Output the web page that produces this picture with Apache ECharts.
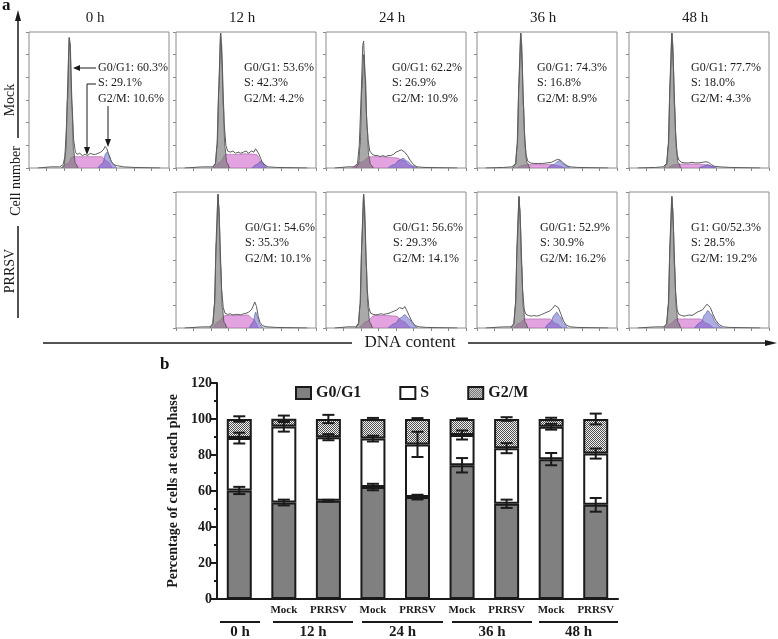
<!DOCTYPE html>
<html>
<head>
<meta charset="utf-8">
<script src="https://cdn.jsdelivr.net/npm/echarts@6/dist/echarts.min.js"></script>
<style>
  html, body { margin: 0; padding: 0; background: #fff; }
  #chart { width: 778px; height: 639px; }
</style>
</head>
<body>
<div id="chart"></div>
<script>
const SERIF = "'Liberation Serif', 'Times New Roman', serif";

// ---- panel b : stacked percentages (0 h, then Mock / PRRSV for 12, 24, 36, 48 h)
const barCats = ['', 'Mock', 'PRRSV', 'Mock', 'PRRSV', 'Mock', 'PRRSV', 'Mock', 'PRRSV'];
const g0Vals = [60.3, 53.6, 54.6, 62.2, 56.6, 74.3, 52.9, 77.7, 52.3];
const sVals = [29.1, 42.3, 35.3, 26.9, 29.3, 16.8, 30.9, 18.0, 28.5];
const g2Vals = [10.6, 4.2, 10.1, 10.9, 14.1, 8.9, 16.2, 4.3, 19.2];
const g0Err = [2.0, 1.6, 0.5, 1.8, 1.3, 4.0, 2.3, 3.4, 3.8];
const sErr = [3.0, 2.9, 1.7, 1.6, 7.0, 2.5, 2.8, 1.6, 2.8];
const g2Err = [1.5, 1.8, 2.3, 0.6, 0.5, 0.3, 1.0, 0.7, 3.0];
const timeLabels = ['0 h', '12 h', '24 h', '36 h', '48 h'];

// ---- panel a : DNA histograms, order Mock 0/12/24/36/48 h, PRRSV 12/24/36/48 h
const histBar = [0, 1, 3, 5, 7, 2, 4, 6, 8];   // which bar each histogram belongs to
const g0Prefix = ['G0/G1: ', 'G0/G1: ', 'G0/G1: ', 'G0/G1: ', 'G0/G1: ',
                  'G0/G1: ', 'G0/G1: ', 'G0/G1: ', 'G1: G0/'];
const g1Curves = [
  [[37,0],[40,2],[42,15],[44,60],[46,115],[47,110],[49,55],[51,15],[53,4],[56,0]],
  [[42,0],[45,3],[47,20],[49,70],[51,119],[52,110],[54,55],[56,18],[58,5],[61,0]],
  [[34,0],[37,3],[39,20],[41,70],[43,100],[45,80],[47,35],[49,10],[51,3],[54,0]],
  [[41,0],[44,3],[46,20],[48,75],[50,119],[51,110],[53,55],[55,18],[57,5],[60,0]],
  [[40,0],[43,3],[45,20],[47,75],[49,119],[50,110],[52,55],[54,18],[56,5],[59,0]],
  [[39,0],[42,3],[44,20],[46,75],[48,118],[49,108],[51,55],[53,18],[55,5],[58,0]],
  [[34,0],[37,3],[39,20],[41,75],[43,118],[44,108],[46,55],[48,18],[50,5],[53,0]],
  [[39,0],[42,3],[44,20],[46,75],[48,116],[49,106],[51,55],[53,18],[55,5],[58,0]],
  [[40,0],[43,3],[45,20],[47,75],[49,116],[50,106],[52,55],[54,18],[56,5],[59,0]]
];
const sCurves = [
  [[38,0],[44,4],[50,10],[60,10],[70,10],[83,10],[89,6],[95,0]],
  [[44,0],[50,5],[57,12],[70,12],[80,12.5],[92,12],[98,5],[102,0]],
  [[30,0],[40,5],[50,10],[65,10],[80,9],[88,7],[96,2],[102,0]],
  [[46,0],[53,2.5],[60,3],[75,3],[85,3],[92,2],[100,0]],
  [[45,0],[52,3],[60,3.5],[75,3.5],[85,3.2],[92,2],[98,0]],
  [[42,0],[49,6],[56,11],[70,11],[82,11.5],[88,8],[94,0]],
  [[38,0],[47,6],[55,11],[68,11],[80,10.5],[88,6],[96,0]],
  [[42,0],[48,4],[55,8],[70,8],[83,8],[90,4],[97,0]],
  [[42,0],[48,4],[54,8],[68,8],[81,8],[89,4],[96,0]]
];
const g2Curves = [
  [[79,0],[84,4],[88,13],[89,14],[91,12],[95,4],[100,0]],
  [[87,0],[92,3],[97,6],[100,4],[104,0]],
  [[71,0],[78,3],[84,7],[88,8.5],[93,6],[99,2],[105,0]],
  [[81,0],[87,3],[94,6.5],[99,3.5],[106,0]],
  [[80,0],[85,1.5],[90,3],[95,1.5],[100,0]],
  [[84,0],[88,5],[91,14],[93,10],[96,3],[99,0]],
  [[71,0],[79,4],[85,9],[90,11.7],[95,8],[100,3],[104,0]],
  [[78,0],[84,5],[88,11],[91,14],[95,10],[99,4],[103,0]],
  [[75,0],[82,5],[87,12],[90,15.5],[94,12],[99,5],[104,1],[107,0]]
];
const rawCurves = [
  [[10,0],[25,1],[35,1],[39,3],[41,10],[43,40],[45,95],[46,115],[47,108],[49,60],[51,25],[53,14],[55,12],[58,13],[61,11],[64,12],[67,11],[70,13],[73,12],[76,12],[79,13],[82,14],[85,16],[87,19],[89,17],[91,12],[94,6],[97,3],[101,2],[108,1],[120,0.5],[150,0]],
  [[10,0],[30,1],[42,1],[45,4],[47,22],[49,75],[51,119],[53,90],[55,40],[57,20],[59,15],[62,14],[65,15],[68,13],[71,14],[74,13],[77,14],[80,15],[83,13],[86,15],[89,14],[91,17],[93,16],[95,12],[98,6],[101,3],[105,1],[115,0.5],[150,0]],
  [[10,0],[25,1],[33,1],[36,4],[38,20],[40,60],[42,108],[43,112],[44,95],[46,50],[48,25],[50,15],[53,12],[56,11],[59,11],[62,10],[65,11],[68,10],[71,11],[74,11],[77,12],[80,14],[83,15],[86,16],[88,16.5],[90,14],[93,11],[96,7],[100,3],[104,1],[112,0.5],[150,0]],
  [[10,0],[30,0.5],[40,1],[44,4],[46,22],[48,80],[50,119],[52,85],[54,35],[56,12],[58,6],[61,4.5],[65,4],[70,4],[75,4],[80,4.5],[85,5],[89,6.5],[92,7.7],[95,7],[98,5],[102,2],[107,1],[115,0.5],[150,0]],
  [[10,0],[30,0.5],[39,1],[43,4],[45,22],[47,80],[49,119],[51,85],[53,35],[55,12],[57,7],[60,5],[64,4.5],[68,4.5],[72,5],[76,4.5],[80,4.5],[84,5],[88,5.5],[91,5],[94,3],[98,1.5],[104,1],[115,0.5],[150,0]],
  [[10,0],[30,1],[39,1],[42,4],[44,22],[46,80],[48,118],[50,85],[52,35],[54,18],[56,13],[59,12],[62,12.5],[65,11.5],[68,12],[71,12],[74,11.5],[77,12.5],[80,13],[83,14],[86,16],[88,19],[90,23],[92,19],[94,10],[96,5],[99,2],[104,1],[115,0.5],[150,0]],
  [[10,0],[25,1],[34,1],[37,4],[39,22],[41,80],[43,118],[45,85],[47,35],[49,18],[51,13],[54,12],[57,11.5],[60,12],[63,12.5],[66,12],[69,12.5],[72,13],[75,14],[78,15],[81,16],[84,18],[86,19.5],[88,17],[90,19],[92,16],[95,11],[98,6],[102,2],[107,1],[115,0.5],[150,0]],
  [[10,0],[30,1],[39,1],[42,4],[44,22],[46,80],[48,116],[50,85],[52,35],[54,16],[56,12],[59,11],[62,10.5],[65,11],[68,10.5],[71,11],[74,12],[77,13],[80,14],[83,15],[86,17],[89,20],[91,21],[93,18],[96,12],[99,6],[102,2.5],[107,1],[115,0.5],[150,0]],
  [[10,0],[30,1],[40,1],[43,4],[45,22],[47,80],[49,116],[51,85],[53,35],[55,16],[57,12],[60,11],[63,10.5],[66,11],[69,11.5],[72,11],[75,12.5],[78,14],[81,15],[84,16],[87,19],[89,21],[91,20],[93,18],[96,12],[99,7],[103,3],[108,1],[115,0.5],[150,0]]
];

// layout
const colLeft = [29, 176, 326, 477, 629];
const rowTop = [32, 192];
const textDx = [69, 68, 66, 60, 62, 69, 67, 63, 62];
const PW = 140, PH = 136;

const chart = echarts.init(document.getElementById('chart'));

// dotted fill for G2/M
const tile = document.createElement('canvas');
tile.width = 2; tile.height = 2;
const tc = tile.getContext('2d');
tc.fillStyle = '#f0f0f0'; tc.fillRect(0, 0, 2, 2);
tc.fillStyle = '#505050'; tc.fillRect(0, 0, 1, 1); tc.fillRect(1, 1, 1, 1);
const dotted = { image: tile, repeat: 'repeat' };

const grids = [], xAxes = [], yAxes = [], series = [], graphics = [];
const txt = (text, x, y, size, extra) => Object.assign({
  type: 'text', x, y, silent: true,
  style: { text, fill: '#1a1a1a', font: size + 'px ' + SERIF,
           textAlign: 'left', textVerticalAlign: 'middle', align: 'left', verticalAlign: 'middle' }
}, extra || {});
const seg = (x1, y1, x2, y2, w) => ({
  type: 'line', silent: true, shape: { x1, y1, x2, y2 },
  style: { stroke: '#1a1a1a', lineWidth: w || 1 }
});
const head = (pts) => ({ type: 'polygon', silent: true, shape: { points: pts }, style: { fill: '#1a1a1a' } });

histBar.forEach((b, i) => {
  const col = i < 5 ? i : i - 4;
  const row = i < 5 ? 0 : 1;
  const left = colLeft[col], top = rowTop[row];
  grids.push({ left, top, width: PW, height: PH, show: true, borderColor: '#8c8c8c', borderWidth: 1 });
  const tick = { show: true, length: 3, lineStyle: { color: '#8c8c8c', width: 1 } };
  xAxes.push({ gridIndex: i, type: 'value', min: 0, max: 160, interval: 20,
    axisLine: { show: false }, axisTick: tick, axisLabel: { show: false }, splitLine: { show: false } });
  yAxes.push({ gridIndex: i, type: 'value', min: 0, max: 120, interval: 20,
    axisLine: { show: false }, axisTick: tick, axisLabel: { show: false }, splitLine: { show: false } });
  const base = { type: 'line', xAxisIndex: i, yAxisIndex: i, showSymbol: false, silent: true,
    smooth: 0.35, smoothMonotone: 'x' };
  series.push(Object.assign({}, base, { data: sCurves[i], z: 2,
    lineStyle: { color: '#a060a0', width: 0.6 }, areaStyle: { color: 'rgba(208,100,204,0.85)' } }));
  series.push(Object.assign({}, base, { data: g2Curves[i], z: 3,
    lineStyle: { color: '#5252a0', width: 0.6 }, areaStyle: { color: 'rgba(92,92,200,0.72)' } }));
  series.push(Object.assign({}, base, { data: g1Curves[i], z: 4,
    lineStyle: { color: '#4a4a4a', width: 0.8 }, areaStyle: { color: 'rgba(118,118,118,0.9)' } }));
  series.push(Object.assign({}, base, { data: rawCurves[i], z: 5, smooth: false,
    lineStyle: { color: '#5c5c5c', width: 1 } }));

  const tx = left + textDx[i];
  graphics.push(txt(g0Prefix[i] + g0Vals[b].toFixed(1) + '%', tx, top + 36, 12));
  graphics.push(txt('S: ' + sVals[b].toFixed(1) + '%', tx, top + 51, 12));
  graphics.push(txt('G2/M: ' + g2Vals[b].toFixed(1) + '%', tx, top + 67, 12));
});

// arrows pointing at the phases in the 0 h panel
graphics.push(seg(96, 68, 78, 68), head([[73, 68], [80, 65], [80, 71]]));
graphics.push(seg(96, 84, 87, 84), seg(87, 84, 87, 148), head([[87, 155], [84, 147], [90, 147]]));
graphics.push(seg(108, 106, 108, 140), head([[108, 147], [105, 139], [111, 139]]));

// column titles
timeLabels.forEach((t, c) => {
  graphics.push(txt(t, colLeft[c] + PW / 2 - 4, 18, 15,
    { style: { text: t, fill: '#1a1a1a', font: '15px ' + SERIF, textAlign: 'center', align: 'center',
               textVerticalAlign: 'middle', verticalAlign: 'middle' } }));
});

// panel letters
graphics.push(txt('a', 2, 6, 17, { style: { text: 'a', fill: '#111', font: 'bold 17px ' + SERIF, textVerticalAlign: 'middle', verticalAlign: 'middle' } }));
graphics.push(txt('b', 160, 365, 17, { style: { text: 'b', fill: '#111', font: 'bold 17px ' + SERIF, textVerticalAlign: 'middle', verticalAlign: 'middle' } }));

// vertical "Cell number" axis with row labels
const rot = (text, x, y, size) => ({
  type: 'text', x, y, rotation: Math.PI / 2, silent: true,
  style: { text, fill: '#1a1a1a', font: size + 'px ' + SERIF, textAlign: 'center', align: 'center',
           textVerticalAlign: 'middle', verticalAlign: 'middle' }
});
graphics.push(rot('Mock', 10, 100, 14), rot('PRRSV', 10, 271, 14), rot('Cell number', 16, 181, 14));
graphics.push(seg(18, 20, 18, 138, 1.5), head([[18, 10], [15, 21], [21, 21]]));
graphics.push(seg(18, 226, 18, 318, 1.5));

// horizontal "DNA content" axis
graphics.push(seg(43, 343, 352, 343, 1.5), seg(468, 343, 768, 343, 1.5), head([[777, 343], [765, 340], [765, 346]]));
graphics.push(txt('DNA content', 410, 343, 17,
  { style: { text: 'DNA content', fill: '#1a1a1a', font: '17px ' + SERIF, textAlign: 'center', align: 'center',
             textVerticalAlign: 'middle', verticalAlign: 'middle' } }));

// ---- panel b grid
const B = 9;
grids.push({ left: 217, top: 383, width: 401, height: 216 });
xAxes.push({ gridIndex: B, type: 'category', data: barCats,
  axisLine: { lineStyle: { color: '#1a1a1a', width: 2 } },
  axisTick: { alignWithLabel: true, length: 5, lineStyle: { color: '#1a1a1a', width: 2 } },
  axisLabel: { interval: 0, margin: 6, color: '#1a1a1a', fontFamily: SERIF, fontWeight: 'bold', fontSize: 11 } });
yAxes.push({ gridIndex: B, type: 'value', min: 0, max: 120, interval: 20,
  axisLine: { show: true, lineStyle: { color: '#1a1a1a', width: 2 } },
  axisTick: { show: true, length: 6, lineStyle: { color: '#1a1a1a', width: 2 } },
  minorTick: { show: true, splitNumber: 2, length: 3, lineStyle: { color: '#1a1a1a', width: 2 } },
  splitLine: { show: false },
  axisLabel: { margin: 5, color: '#1a1a1a', fontFamily: SERIF, fontWeight: 'bold', fontSize: 14 },
  name: 'Percentage of cells at each phase', nameLocation: 'middle', nameGap: 25,
  nameTextStyle: { color: '#1a1a1a', fontFamily: SERIF, fontWeight: 'bold', fontSize: 14 } });

const barBase = { type: 'bar', stack: 'phase', xAxisIndex: B, yAxisIndex: B, barWidth: 25, silent: true };
series.push(Object.assign({}, barBase, { name: 'G0/G1', data: g0Vals,
  itemStyle: { color: '#808080', borderColor: '#1a1a1a', borderWidth: 2 } }));
series.push(Object.assign({}, barBase, { name: 'S', data: sVals,
  itemStyle: { color: '#ffffff', borderColor: '#1a1a1a', borderWidth: 2 } }));
series.push(Object.assign({}, barBase, { name: 'G2/M', data: g2Vals,
  itemStyle: { color: dotted, borderColor: '#1a1a1a', borderWidth: 2 } }));

const errRows = [];
barCats.forEach((c, k) => {
  const t0 = g0Vals[k], t1 = t0 + sVals[k], t2 = t1 + g2Vals[k];
  errRows.push([k, t0, g0Err[k]], [k, t1, sErr[k]], [k, t2, g2Err[k]]);
});
series.push({ type: 'custom', xAxisIndex: B, yAxisIndex: B, data: errRows, z: 6, silent: true,
  renderItem: (params, api) => {
    const x = api.coord([api.value(0), 0])[0];
    const hi = api.coord([api.value(0), api.value(1) + api.value(2)])[1];
    const lo = api.coord([api.value(0), api.value(1) - api.value(2)])[1];
    const st = { stroke: '#1a1a1a', lineWidth: 2 };
    return { type: 'group', children: [
      { type: 'line', shape: { x1: x, y1: hi, x2: x, y2: lo }, style: st },
      { type: 'line', shape: { x1: x - 6, y1: hi, x2: x + 6, y2: hi }, style: st },
      { type: 'line', shape: { x1: x - 6, y1: lo, x2: x + 6, y2: lo }, style: st }
    ] };
  } });

// time groups under the bar axis
const groupSpan = [[220, 260], [273, 353], [362, 443], [452, 532], [539, 618]];
groupSpan.forEach((s, g) => {
  graphics.push(seg(s[0], 622, s[1], 622, 2));
  graphics.push(txt(timeLabels[g], (s[0] + s[1]) / 2, 632, 15,
    { style: { text: timeLabels[g], fill: '#1a1a1a', font: 'bold 15px ' + SERIF, textAlign: 'center', align: 'center',
               textVerticalAlign: 'middle', verticalAlign: 'middle' } }));
});

chart.setOption({
  animation: false,
  backgroundColor: '#fff',
  grid: grids,
  xAxis: xAxes,
  yAxis: yAxes,
  legend: { data: ['G0/G1', 'S', 'G2/M'], left: 290, top: 380, icon: 'rect', itemWidth: 15, itemHeight: 12, itemGap: 38,
    selectedMode: false,
    textStyle: { color: '#1a1a1a', fontFamily: SERIF, fontWeight: 'bold', fontSize: 16 } },
  series,
  graphic: graphics
});
</script>
</body>
</html>
